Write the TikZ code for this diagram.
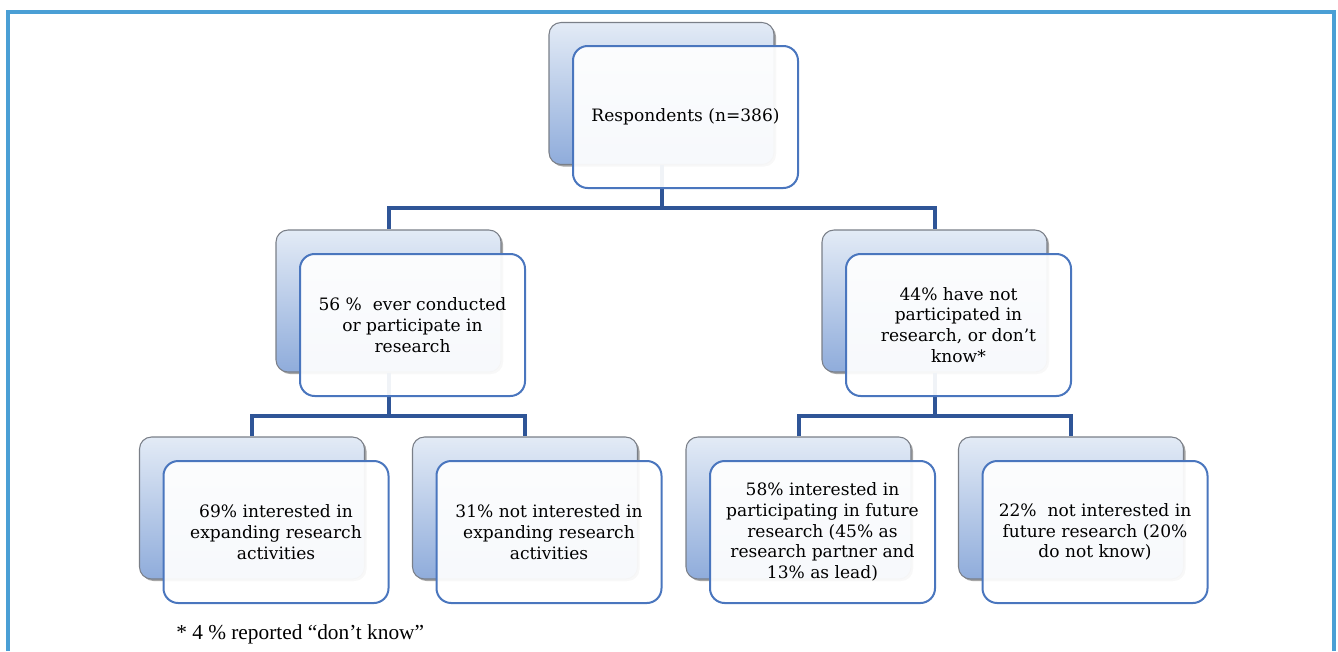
\documentclass[tikz,border=0pt]{standalone}
\usepackage{fontspec}
\setmainfont{DejaVu Serif}
\newfontfamily\footfont{Liberation Serif}
\usetikzlibrary{shadows}
\definecolor{frameblue}{HTML}{4A9FD5}
\definecolor{linkblue}{HTML}{2F5597}
\definecolor{boxedge}{HTML}{4A76BE}
\definecolor{backtop}{HTML}{E3EBF6}
\definecolor{backbot}{HTML}{8FACDB}
\definecolor{backedge}{HTML}{7A7F88}
\begin{document}
\begin{tikzpicture}[x=0.75pt,y=-0.75pt,
  backbox/.style={draw=backedge, line width=0.8pt, rounded corners=9pt,
    top color=backtop, bottom color=backbot,
    minimum width=168.75pt, minimum height=106.5pt, inner sep=0pt,
    drop shadow={shadow xshift=1.5pt, shadow yshift=-1.5pt, opacity=0.35, fill=black}},
  frontbox/.style={draw=boxedge, line width=1.5pt, rounded corners=11pt,
    fill=white, fill opacity=0.93, text opacity=1,
    minimum width=168.75pt, minimum height=106.5pt, inner sep=1pt,
    align=center, font=\fontsize{12.8}{15.6}\selectfont, text=black},
  link/.style={draw=linkblue, line width=3pt},
  frameline/.style={draw=frameblue, line width=2.6pt}
]
\useasboundingbox (0,0) rectangle (1338,651);
% outer frame
\draw[frameline] (8,651) -- (8,12) -- (1334,12) -- (1334,651);

% back boxes
\node[backbox] (b0) at (661.5,93.5) {};
\node[backbox] (b1) at (388.5,301) {};
\node[backbox] (b2) at (934.5,301) {};
\node[backbox] (b3) at (252,508) {};
\node[backbox] (b4) at (525,508) {};
\node[backbox] (b5) at (798.5,508) {};
\node[backbox] (b6) at (1071,508) {};

% junctions
\coordinate (j0) at (661.5,208);
\coordinate (j1) at (388.5,416);
\coordinate (j2) at (934.5,416);

% connectors
\draw[link] (b0.south) -- (j0) -| (b1.north);
\draw[link] (j0) -| (b2.north);
\draw[link] (b1.south) -- (j1) -| (b3.north);
\draw[link] (j1) -| (b4.north);
\draw[link] (b2.south) -- (j2) -| (b5.north);
\draw[link] (j2) -| (b6.north);

% front boxes
\node[frontbox] (f0) at (685.5,117) {Respondents (n=386)};
\node[frontbox] (f1) at (412.5,325) {56 \%\ \ ever conducted\\or participate in\\research};
\node[frontbox] (f2) at (958.5,325) {44\% have not\\participated in\\research, or don\char"27 t\\know*};
\node[frontbox] (f3) at (276,532) {69\% interested in\\expanding research\\activities};
\node[frontbox] (f4) at (549,532) {31\% not interested in\\expanding research\\activities};
\node[frontbox] (f5) at (822.5,532) {58\% interested in\\participating in future\\research (45\% as\\research partner and\\13\% as lead)};
\node[frontbox] (f6) at (1095,532) {22\%\ \ not interested in\\future research (20\%\\do not know)};

% footnote
\node[anchor=west, inner sep=0pt, font=\footfont\fontsize{16}{18}\selectfont] (note) at (176,634) {* 4 \% reported “don’t know”};
\end{tikzpicture}
\end{document}
